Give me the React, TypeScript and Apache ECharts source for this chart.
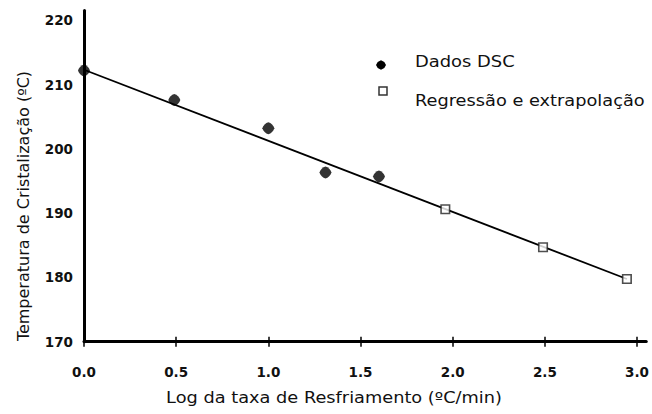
import { useEffect, useRef } from "react";
import * as echarts from "echarts";

// Measured crystallisation temperatures (DSC) vs log of cooling rate
const dscX = [0, 0.49, 1.0, 1.31, 1.6];
const dscY = [212.2, 207.6, 203.2, 196.3, 195.7];

// Points obtained by regression and extrapolation
const regX = [1.96, 2.49, 2.945];
const regY = [190.6, 184.7, 179.75];

// End points of the fitted straight line
const fitX = [0, 2.945];
const fitY = [212.3, 179.75];

const xTicks = [0, 0.5, 1.0, 1.5, 2.0, 2.5, 3.0];
const yTicks = [170, 180, 190, 200, 210, 220];

const seriesNames = ["Dados DSC", "Regressão e extrapolação"];
const xTitle = "Log da taxa de Resfriamento (ºC/min)";
const yTitle = "Temperatura de Cristalização (ºC)";

const FONT = "'DejaVu Sans', sans-serif";
const roundDiamond =
  "path://M50 0 C72 6 94 28 100 50 C94 72 72 94 50 100 C28 94 6 72 0 50 C6 28 28 6 50 0 Z";

const zip = (xs: number[], ys: number[]) => xs.map((x, i) => [x, ys[i]]);

export default function App() {
  const ref = useRef<HTMLDivElement>(null);

  useEffect(() => {
    if (!ref.current) return;
    const chart = echarts.init(ref.current, null, { renderer: "svg" });

    const tickLabel = {
      fontFamily: FONT,
      fontWeight: "bold" as const,
      fontSize: 13.5,
      color: "#111",
    };
    const textStyle = (text: string, align: string) => ({
      text,
      font: `16px ${FONT}`,
      fill: "#111",
      align,
      verticalAlign: "middle",
    });

    chart.setOption({
      animation: false,
      backgroundColor: "#fff",
      grid: { left: 84, right: 5, top: 10.6, bottom: 72.3, containLabel: false },
      graphic: [
        // key for the two point series
        {
          type: "polygon",
          shape: {
            points: [
              [381, 60.2], [384.3, 62], [386, 65], [384.3, 68],
              [381, 69.8], [377.7, 68], [376, 65], [377.7, 62],
            ],
          },
          style: { fill: "#000" },
        },
        { type: "text", x: 415, y: 61, scaleX: 1.12, style: textStyle(seriesNames[0], "left") },
        {
          type: "rect",
          shape: { x: 379, y: 87, width: 8, height: 8 },
          style: { fill: "#fff", stroke: "#333", lineWidth: 1.5 },
        },
        { type: "text", x: 415, y: 100, scaleX: 1.11, style: textStyle(seriesNames[1], "left") },
        // axis titles
        { type: "text", x: 334, y: 397, scaleX: 1.11, style: textStyle(xTitle, "center") },
        { type: "text", x: 23, y: 206, rotation: Math.PI / 2, style: textStyle(yTitle, "center") },
      ],
      xAxis: [
        {
          type: "value",
          min: 0,
          max: 3.05,
          splitLine: { show: false },
          axisLine: { onZero: false, lineStyle: { color: "#000", width: 3 } },
          axisTick: {
            show: true,
            length: 5,
            customValues: xTicks,
            lineStyle: { color: "#000", width: 1.5 },
          },
          axisLabel: {
            ...tickLabel,
            margin: 23,
            customValues: xTicks,
            formatter: (v: number) => v.toFixed(1),
          },
        },
        {
          type: "value",
          min: 0,
          max: 3.05,
          position: "bottom",
          splitLine: { show: false },
          axisLine: { show: false },
          axisLabel: { show: false },
          axisTick: {
            show: true,
            inside: true,
            length: 5,
            customValues: xTicks,
            lineStyle: { color: "#000", width: 1.5 },
          },
        },
      ],
      yAxis: {
        type: "value",
        min: 170,
        max: 221.5,
        splitLine: { show: false },
        axisLine: { onZero: false, lineStyle: { color: "#000", width: 3 } },
        axisTick: { show: false },
        axisLabel: { ...tickLabel, margin: 11, customValues: yTicks },
      },
      series: [
        {
          name: "ajuste",
          type: "line",
          data: zip(fitX, fitY),
          symbol: "none",
          lineStyle: { color: "#000", width: 1.8 },
          z: 1,
        },
        {
          name: seriesNames[0],
          type: "scatter",
          data: zip(dscX, dscY),
          symbol: roundDiamond,
          symbolSize: 12,
          itemStyle: { color: "#000" },
          z: 3,
        },
        {
          name: seriesNames[1],
          type: "scatter",
          data: zip(regX, regY),
          symbol: "rect",
          symbolSize: 8.5,
          itemStyle: { color: "#fff", borderColor: "#222", borderWidth: 1.6 },
          z: 3,
        },
      ],
    });

    return () => chart.dispose();
  }, []);

  return <div ref={ref} style={{ width: 652, height: 414, position: "absolute", left: 0, top: 0 }} />;
}
